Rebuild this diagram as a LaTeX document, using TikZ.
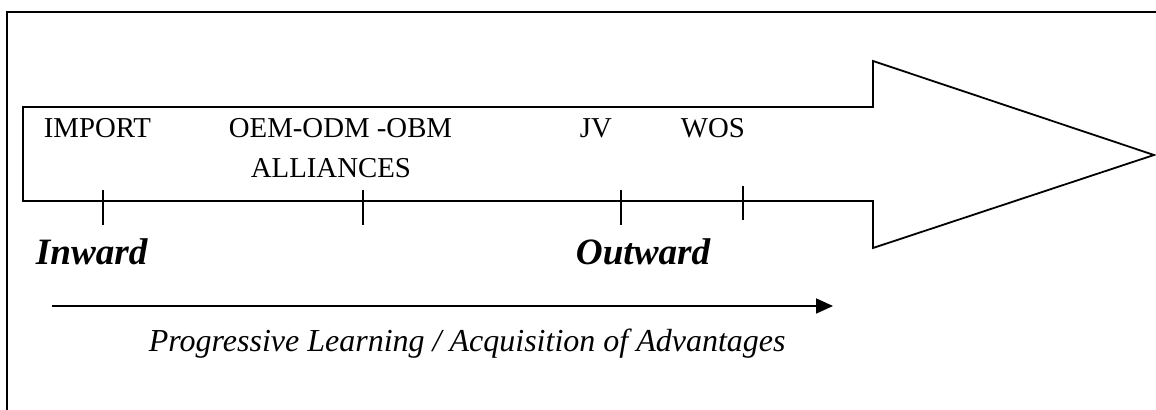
\documentclass[tikz,border=0pt]{standalone}
\usepackage{fontspec}
\setmainfont{Liberation Serif}
\usetikzlibrary{arrows.meta}

\tikzset{
    stage/.style={anchor=base west, inner sep=0pt, font=\fontsize{14.4}{17}\selectfont},
    dirlabel/.style={anchor=base west, inner sep=0pt, font=\fontsize{18.6}{22}\selectfont\bfseries\itshape},
    tick/.style={line width=0.8pt},
}

\begin{document}
\begin{tikzpicture}[x=0.5pt, y=-0.5pt, line width=0.9pt]
    \clip (0,0) rectangle (1156,410);

    % frame
    \draw (7,420) -- (7,12) -- (1170,12);

    % big arrow
    \draw (23,107) -- (873,107) -- (873,61) -- (1154,155) -- (873,248)
        -- (873,201) -- (23,201) -- cycle;

    % stages
    \node[stage] (import) at (43,138) {IMPORT};
    \node[stage] (oem) at (228,138) {OEM-ODM -OBM};
    \node[stage] (alliances) at (250,178) {ALLIANCES};
    \node[stage] (jv) at (579,138) {JV};
    \node[stage] (wos) at (680,138) {WOS};

    % ticks
    \foreach \x in {103,363,621} {
        \draw[tick] (\x,190) -- (\x,225);
    }
    \draw[tick] (743,186) -- (743,220);

    \node[dirlabel] (inward) at (35,265) {Inward};
    \node[dirlabel] (outward) at (575,265) {Outward};

    % learning direction
    \coordinate (lstart) at (52,306);
    \coordinate (lend) at (833,306);
    \draw[-{Triangle[length=8.5pt,width=7.5pt]}] (lstart) -- (lend);
    \node[anchor=base west, inner sep=0pt, font=\fontsize{16}{19}\selectfont\itshape]
        (learning) at (148,352) {Progressive Learning / Acquisition of Advantages};
\end{tikzpicture}
\end{document}
